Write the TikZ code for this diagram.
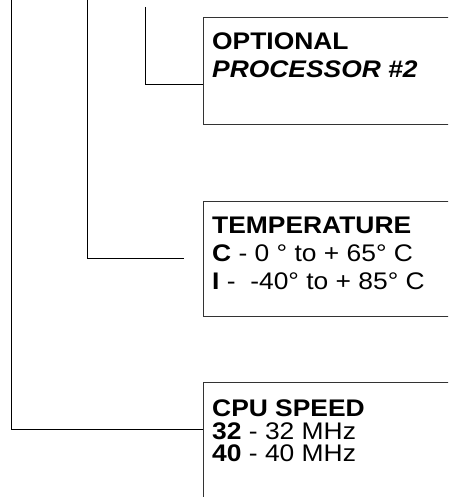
\documentclass[tikz,border=0pt]{standalone}
\usepackage{fontspec}
\setmainfont{Liberation Sans}[FakeStretch=1.1]
\tikzset{
    databox/.style={draw=black!80, line width=1pt, anchor=north west,
        minimum width=270pt, inner sep=0pt},
    wire/.style={draw=black, line width=1pt},
    label/.style={anchor=base west, inner sep=0pt, font=\fontsize{24}{24}\selectfont}
}
\begin{document}
\begin{tikzpicture}[x=1pt, y=-1pt]
    \useasboundingbox (0,0) rectangle (448,497);
    \clip (0,0) rectangle (448,497);

    % option boxes
    \node[databox, minimum height=107pt] (optbox) at (203.3,17.3) {};
    \node[databox, minimum height=115pt] (tempbox) at (203.3,201) {};
    \node[databox, minimum height=130pt] (speedbox) at (203.3,382.3) {};

    \node[label] (opt1) at (212,50) {\textbf{OPTIONAL}};
    \node[label] (opt2) at (212,78) {\textbf{\textit{PROCESSOR \#2}}};

    \node[label] (temp1) at (212,233.5) {\textbf{TEMPERATURE}};
    \node[label] (temp2) at (212,261.5) {\textbf{C} - 0 ° to + 65° C};
    \node[label] (temp3) at (212,289.5) {\textbf{I} -\ \ -40° to + 85° C};

    \node[label] (speed1) at (212,416) {\textbf{CPU SPEED}};
    \node[label] (speed2) at (212,439) {\textbf{32} - 32 MHz};
    \node[label] (speed3) at (212,461.5) {\textbf{40} - 40 MHz};

    % connectors
    \coordinate (procTop) at (145,7);
    \coordinate (tempTop) at (87.3,0);
    \coordinate (speedTop) at (11,0);
    \coordinate (tempEnd) at (183.7,258);

    \draw[wire] (procTop) |- (optbox.north west |- 0,85);
    \draw[wire] (tempTop) |- (tempEnd);
    \draw[wire] (speedTop) |- (speedbox.north west |- 0,429.3);
\end{tikzpicture}
\end{document}
